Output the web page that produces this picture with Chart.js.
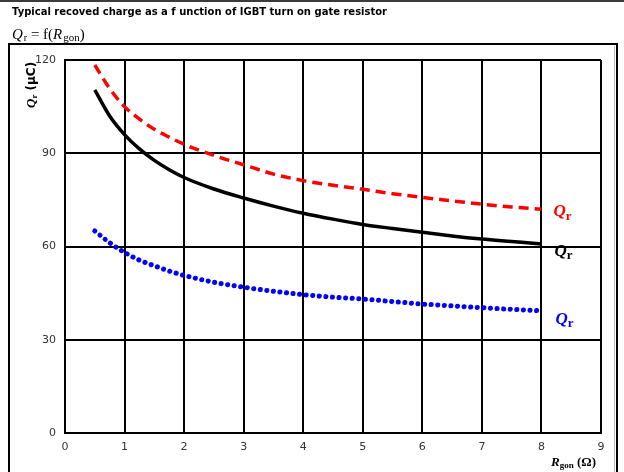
<!DOCTYPE html>
<html>
<head>
<meta charset="utf-8">
<script src="https://cdn.jsdelivr.net/npm/chart.js@4"></script>
<style>
  html, body { margin: 0; padding: 0; background: #fff; }
  #wrap { position: relative; width: 624px; height: 472px; }
  #qrChart { position: absolute; left: 0; top: 0; }
</style>
</head>
<body>
<div id="wrap">
  <canvas id="qrChart" width="624" height="472"></canvas>
</div>
<script>
// Rgon (ohm)
const rgon = [0.5, 0.75, 1, 1.25, 1.5, 1.75, 2, 2.5, 3, 3.5, 4, 4.5, 5, 5.5, 6, 6.5, 7, 7.5, 8];
// Qr (uC) - 3 courbes
const qrBlack = [110.4, 102.0, 96, 91.4, 87.7, 84.7, 82.2, 78.5, 75.6, 73, 70.7, 68.8, 67.1, 65.8, 64.6, 63.4, 62.4, 61.6, 60.8];
const qrRed   = [118.4, 110.8, 105, 101, 97.7, 95.2, 92.9, 89.3, 86.3, 83.3, 81.2, 79.7, 78.4, 77, 75.8, 74.7, 73.6, 72.7, 72.0];
const qrBlue  = [65, 61.2, 58.1, 55.6, 53.8, 52.1, 50.7, 48.5, 46.9, 45.6, 44.5, 43.7, 43.1, 42.3, 41.5, 40.9, 40.3, 39.8, 39.3];
const xTicks = [0, 1, 2, 3, 4, 5, 6, 7, 8, 9];
const yTicks = [0, 30, 60, 90, 120];

const toPts = (ys) => rgon.map((x, i) => ({ x: x, y: ys[i] }));

// dessine le texte Q_r avec indice
function drawQr(ctx, x, y, size, color) {
  ctx.fillStyle = color;
  ctx.textBaseline = 'alphabetic';
  ctx.textAlign = 'left';
  ctx.font = 'italic bold ' + size + 'px "Liberation Serif"';
  ctx.fillText('Q', x, y);
  const w = ctx.measureText('Q').width;
  ctx.font = 'bold ' + Math.round(size * 0.75) + 'px "Liberation Serif"';
  ctx.fillText('r', x + w, y + size * 0.2);
}

const decor = {
  id: 'decor',
  beforeDraw(chart) {
    const ctx = chart.ctx;
    ctx.save();
    ctx.fillStyle = '#fff';
    ctx.fillRect(0, 0, chart.width, chart.height);
    // ligne du haut
    ctx.fillStyle = '#3a3a3a';
    ctx.fillRect(0, 0, chart.width, 2);
    // titre
    ctx.fillStyle = '#000';
    ctx.font = 'bold 10px "DejaVu Sans"';
    ctx.textBaseline = 'alphabetic';
    ctx.fillText('Typical recoved charge as a f unction of IGBT turn on gate resistor', 12, 15);
    // Qr = f(Rgon)
    let x = 12;
    const yb = 39;
    ctx.font = 'italic 15px "Liberation Serif"';
    ctx.fillText('Q', x, yb); x += ctx.measureText('Q').width + 1;
    ctx.font = '10px "Liberation Serif"';
    ctx.fillText('r', x, yb + 2); x += ctx.measureText('r').width;
    ctx.font = '15px "Liberation Serif"';
    ctx.fillText(' = f(', x, yb); x += ctx.measureText(' = f(').width;
    ctx.font = 'italic 15px "Liberation Serif"';
    ctx.fillText('R', x, yb); x += ctx.measureText('R').width + 1;
    ctx.font = '11px "Liberation Serif"';
    ctx.fillText('gon', x, yb + 2); x += ctx.measureText('gon').width;
    ctx.font = '15px "Liberation Serif"';
    ctx.fillText(')', x, yb);
    // cadre exterieur
    ctx.strokeStyle = '#000';
    ctx.lineWidth = 2;
    ctx.beginPath();
    ctx.moveTo(9, chart.height + 2);
    ctx.lineTo(9, 44);
    ctx.lineTo(617, 44);
    ctx.lineTo(617, chart.height + 2);
    ctx.stroke();
    ctx.strokeStyle = '#bbb';
    ctx.lineWidth = 1;
    ctx.beginPath();
    ctx.moveTo(614.5, 46);
    ctx.lineTo(614.5, chart.height);
    ctx.stroke();
    ctx.restore();
  },
  afterDraw(chart) {
    const ctx = chart.ctx;
    const xs = chart.scales.x, ys = chart.scales.y;
    ctx.save();
    // etiquettes des courbes
    const lx = xs.getPixelForValue(8) + 12;
    drawQr(ctx, lx, ys.getPixelForValue(72) + 7, 17, '#ff0000');
    drawQr(ctx, lx + 1, ys.getPixelForValue(60.5) + 11, 17, '#000');
    drawQr(ctx, lx + 2, ys.getPixelForValue(39.3) + 13, 17, '#0000ff');
    // titre axe Y
    ctx.translate(35, 108);
    ctx.rotate(-Math.PI / 2);
    ctx.fillStyle = '#000';
    ctx.font = 'italic bold 13px "Liberation Serif"';
    ctx.fillText('Q', 0, 0);
    let w = ctx.measureText('Q').width;
    ctx.font = 'bold 9px "Liberation Serif"';
    ctx.fillText('r', w, 2);
    w += ctx.measureText('r').width;
    ctx.font = 'bold 12px "DejaVu Sans"';
    ctx.fillText(' (\u00b5C)', w, 0);
    ctx.restore();
    // titre axe X
    ctx.save();
    ctx.fillStyle = '#000';
    let x = 551;
    const yb = 466;
    ctx.font = 'italic bold 13px "Liberation Serif"';
    ctx.fillText('R', x, yb); x += ctx.measureText('R').width;
    ctx.font = 'bold 9px "Liberation Serif"';
    ctx.fillText('gon', x, yb + 2); x += ctx.measureText('gon').width;
    ctx.font = 'bold 13px "Liberation Serif"';
    ctx.fillText(' (\u03a9)', x, yb);
    ctx.restore();
  }
};

const ctx = document.getElementById('qrChart').getContext('2d');
const qrChart = new Chart(ctx, {
  type: 'line',
  data: {
    datasets: [
      {
        data: toPts(qrRed),
        borderColor: '#ff0000',
        borderWidth: 3.5,
        borderDash: [10, 6],
        cubicInterpolationMode: 'monotone',
        pointRadius: 0,
        fill: false
      },
      {
        data: toPts(qrBlack),
        borderColor: '#000',
        borderWidth: 3.5,
        cubicInterpolationMode: 'monotone',
        pointRadius: 0,
        fill: false
      },
      {
        data: toPts(qrBlue),
        borderColor: '#0000ff',
        borderWidth: 5,
        borderDash: [0.1, 6.5],
        borderCapStyle: 'round',
        cubicInterpolationMode: 'monotone',
        pointRadius: 0,
        fill: false
      }
    ]
  },
  options: {
    responsive: false,
    animation: false,
    layout: { padding: { left: 0, right: 23, top: 60, bottom: 0 } },
    plugins: { legend: { display: false }, tooltip: { enabled: false } },
    scales: {
      x: {
        type: 'linear',
        min: 0, max: 9,
        afterBuildTicks: (s) => { s.ticks = xTicks.map(v => ({ value: v })); },
        afterFit: (s) => { s.height = 39; },
        grid: { color: '#000', lineWidth: 2, drawTicks: false },
        border: { color: '#000', width: 2 },
        ticks: { color: '#333', font: { family: 'DejaVu Sans', size: 11 }, padding: 8, maxRotation: 0 }
      },
      y: {
        min: 0, max: 120,
        afterBuildTicks: (s) => { s.ticks = yTicks.map(v => ({ value: v })); },
        afterFit: (s) => { s.width = 65; },
        grid: { color: '#000', lineWidth: 2, drawTicks: false },
        border: { color: '#000', width: 2 },
        ticks: { color: '#333', font: { family: 'DejaVu Sans', size: 11 }, padding: 9 }
      }
    }
  },
  plugins: [decor]
});
</script>
</body>
</html>
